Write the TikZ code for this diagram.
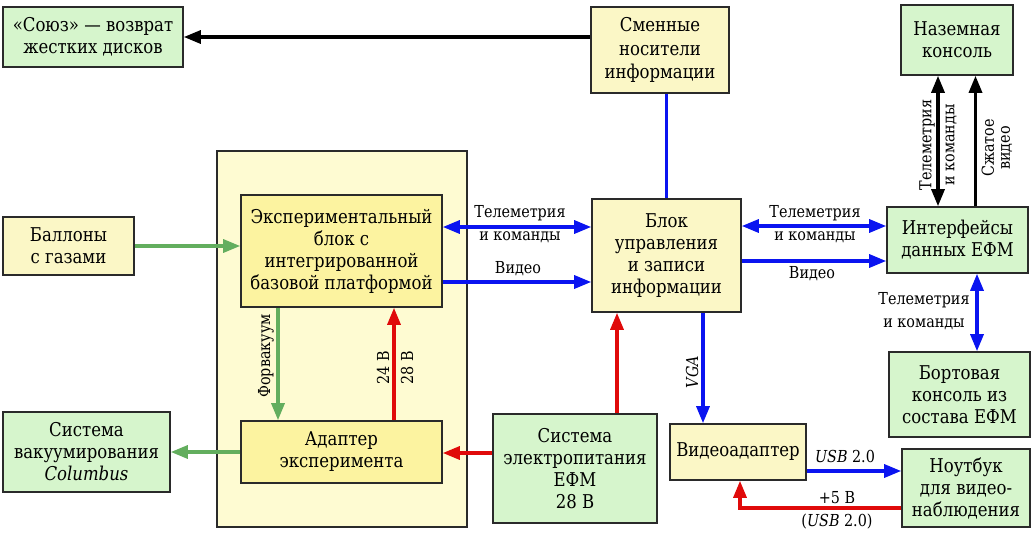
\documentclass[tikz,border=0pt]{standalone}
\usepackage{fontspec}
\setmainfont{DejaVu Serif}[FakeStretch=0.87]
\usetikzlibrary{arrows.meta,calc}
\definecolor{gfill}{HTML}{D6F5CC}
\definecolor{yfill}{HTML}{FBF7C6}
\definecolor{cfill}{HTML}{FEFBD2}
\definecolor{efill}{HTML}{FCF3A0}
\definecolor{bord}{HTML}{2A2A2A}
\definecolor{cblue}{HTML}{0A14F0}
\definecolor{cred}{HTML}{E00A0A}
\definecolor{cgreen}{HTML}{63AE5E}
\begin{document}
\begin{tikzpicture}[x=1pt,y=-1pt,
  box/.style={draw=bord,line width=1.6pt,align=center,inner sep=0pt,font=\fontsize{19}{22}\selectfont},
  lbl/.style={font=\fontsize{16.5}{23}\selectfont,align=center,inner sep=0pt},
  tip/.tip={Triangle[length=17pt,width=13pt]},
  con/.style={line width=3.2pt,-tip},
  dcon/.style={line width=3.2pt,tip-tip},
  plain/.style={line width=3.2pt}
]
\useasboundingbox (0,0) rectangle (1034,533);
% container
\node[draw=bord,line width=1.6pt,fill=cfill,minimum width=250pt,minimum height=376pt,inner sep=0pt] (cont) at (342,339) {};
% boxes
\node[box,fill=gfill,minimum width=180pt,minimum height=60pt] (soyuz) at (93,37) {«Союз» — возврат\\жестких дисков};
\node[box,fill=yfill,minimum width=138pt,minimum height=86pt,font=\fontsize{19}{23.5}\selectfont] (smen) at (660,50) {Сменные\\носители\\информации};
\node[box,fill=gfill,minimum width=112pt,minimum height=70pt] (nazem) at (957,40) {Наземная\\консоль};
\node[box,fill=efill,minimum width=201pt,minimum height=112pt] (exp) at (341.5,251) {Экспериментальный\\блок с\\интегрированной\\базовой платформой};
\node[box,fill=yfill,minimum width=131pt,minimum height=58pt] (ballon) at (68.5,246) {Баллоны\\с газами};
\node[box,fill=efill,minimum width=201pt,minimum height=62pt] (adapt) at (341.5,452) {Адаптер\\эксперимента};
\node[box,fill=gfill,minimum width=167pt,minimum height=80pt] (vac) at (86.5,452) {Система\\вакуумирования\\\textit{Columbus}};
\node[box,fill=gfill,minimum width=164pt,minimum height=109pt] (power) at (575,468.5) {Система\\электропитания\\ЕФМ\\28 В};
\node[box,fill=yfill,minimum width=149pt,minimum height=113pt] (blk) at (666.5,255.5) {Блок\\управления\\и записи\\информации};
\node[box,fill=yfill,minimum width=136pt,minimum height=56pt] (vad) at (738,452) {Видеоадаптер};
\node[box,fill=gfill,minimum width=141pt,minimum height=66pt] (iface) at (957.5,240) {Интерфейсы\\данных ЕФМ};
\node[box,fill=gfill,minimum width=141pt,minimum height=85pt] (bort) at (959.5,394.5) {Бортовая\\консоль из\\состава ЕФМ};
\node[box,fill=gfill,minimum width=128pt,minimum height=78pt] (note) at (966,488) {Ноутбук\\для видео-\\наблюдения};
% connectors
\draw[con,black] (smen.west |- soyuz.east) -- (soyuz.east);
\draw[plain,cblue] (blk.north) -- (blk.north |- smen.south);
\draw[con,cgreen] (ballon.east) -- (ballon.east -| exp.west);
\coordinate (t1) at ([yshift=24pt]exp.east);
\draw[dcon,cblue] (t1) -- (t1 -| blk.west);
\coordinate (v1) at ([yshift=-31pt]exp.east);
\draw[con,cblue] (v1) -- (v1 -| blk.west);
\coordinate (t2) at ([yshift=29.5pt]blk.east);
\draw[dcon,cblue] (t2) -- (t2 -| iface.west);
\coordinate (v2) at ([yshift=-5.5pt]blk.east);
\draw[con,cblue] (v2) -- (v2 -| iface.west);
\coordinate (n1) at ([xshift=-19pt]nazem.south);
\draw[dcon,black] (n1) -- (n1 |- iface.north);
\coordinate (n2) at ([xshift=18pt]iface.north);
\draw[con,black] (n2) -- (n2 |- nazem.south);
\coordinate (b1) at ([xshift=19.5pt]iface.south);
\draw[dcon,cblue] (b1) -- (b1 |- bort.north);
\coordinate (f1) at ([xshift=-63.5pt]exp.south);
\draw[con,cgreen] (f1) -- (f1 |- adapt.north);
\coordinate (p1) at ([xshift=52.5pt]adapt.north);
\draw[con,cred] (p1) -- (p1 |- exp.south);
\draw[con,cgreen] (adapt.west) -- (adapt.west -| vac.east);
\coordinate (p2) at ([yshift=15.5pt]power.west);
\draw[con,cred] (p2) -- (p2 -| adapt.east);
\coordinate (p3) at ([xshift=42pt]power.north);
\draw[con,cred] (p3) -- (p3 |- blk.south);
\coordinate (g1) at ([xshift=36.5pt]blk.south);
\draw[con,cblue] (g1) -- (g1 |- vad.north);
\coordinate (u1) at ([yshift=-19pt]vad.east);
\draw[con,cblue] (u1) -- (u1 -| note.west);
\coordinate (r1) at ([yshift=-20pt]note.west);
\coordinate (r2) at ([xshift=2pt]vad.south);
\draw[con,cred] (r1) -| (r2);
% labels
\node[lbl] (l1) at (520,224.5) {Телеметрия\\и команды};
\node[lbl] (l2) at (518,269) {Видео};
\node[lbl] (l3) at (815,224) {Телеметрия\\и команды};
\node[lbl] (l4) at (812,274) {Видео};
\node[lbl] (l5) at (924,311) {Телеметрия\\и команды};
\node[lbl,rotate=90,font=\fontsize{16.5}{23}\selectfont] (l6) at (938,145) {Телеметрия\\и команды};
\node[lbl,rotate=90,font=\fontsize{16.5}{16}\selectfont] (l7) at (997,148) {Сжатое\\видео};
\node[lbl,rotate=90] (l8) at (266,356) {Форвакуум};
\node[lbl,rotate=90,font=\fontsize{16.5}{24}\selectfont] (l9) at (395,368) {24 В\\28 В};
\node[lbl,rotate=90] (l10) at (692,372) {\textit{VGA}};
\node[lbl] (l11) at (845,456) {\textit{USB} 2.0};
\node[lbl] (l12) at (837,498) {+5 В};
\node[lbl] (l13) at (837,522) {(\textit{USB} 2.0)};
\end{tikzpicture}
\end{document}
